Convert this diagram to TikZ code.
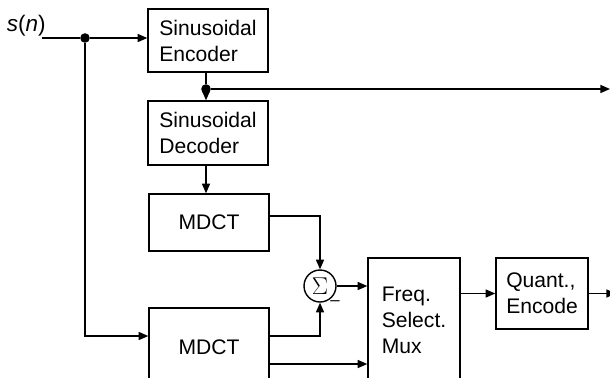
\documentclass[tikz,border=0pt]{standalone}
\usepackage{fontspec}
\setmainfont{Liberation Sans}
\usetikzlibrary{arrows.meta}

\begin{document}
\begin{tikzpicture}[
  x=1cm,
  y=1cm,
  every node/.style={font=\fontsize{15}{18.5}\selectfont},
  block/.style={draw, line width=1pt, minimum width=3cm, align=left,
               inner sep=0pt},
  sumnode/.style={draw, circle, line width=1pt, minimum size=0.8cm,
               inner sep=0pt, font=\fontsize{17}{20}\selectfont},
  wire/.style={line width=1pt},
  sig/.style={line width=1pt, -{Triangle[length=0.24cm, width=0.2cm]}},
  junction/.style={circle, fill, minimum size=0.24cm, inner sep=0pt}
]
  % ---- frame: the figure is cut at the bottom and right edges ----------
  \useasboundingbox (0,0) rectangle (15.25,9.425);
  \clip (0,0) rectangle (15.25,9.425);

  % ---- blocks ------------------------------------------------------------
  \node[block, minimum height=1.575cm] (enc) at (5.2,8.4125)
    {Sinusoidal\\Encoder};
  \node[block, minimum height=1.6cm] (dec) at (5.2,6.1)
    {Sinusoidal\\Decoder};
  \node[block, minimum height=1.425cm] (mdctA) at (5.225,3.8625) {MDCT};
  \node[block, minimum height=1.95cm] (mdctB) at (5.225,0.75) {MDCT};
  \node[sumnode] (sum) at (8.0,2.275) {$\Sigma$};
  \node[font=\fontsize{12}{14}\selectfont] (minus) at (8.375,1.84) {–};
  \node[block, minimum width=2.3cm, minimum height=3.1cm] (mux)
    at (10.35,1.425) {Freq.\\Select.\\Mux};
  \node[block, minimum width=2.3cm, minimum height=1.775cm] (quant)
    at (13.55,2.0875) {Quant.,\\Encode};

  % ---- input s(n) and its branch point ------------------------------------
  \coordinate (in) at (1.05,8.475);
  \node[anchor=base east, inner sep=0pt, font=\fontsize{16}{19}\selectfont]
    (sn) at (1.15,8.65) {\textit{s}(\textit{n})};
  \node[junction] (j1) at (2.125,8.475) {};
  \draw[wire] (in) -- (j1);
  \draw[sig] (j1) -- (j1 -| enc.west);

  % ---- encoder output, branch to the decoder -------------------------------
  \node[junction] (j2) at (5.15,7.2) {};
  \coordinate (outA) at (15.25,7.2);
  \draw[wire] (enc.south -| j2) -- (j2);
  \draw[sig] (j2) -- (j2 |- dec.north);
  \draw[sig] (j2) -- (outA);
  \draw[sig] (dec.south -| j2) -- (j2 |- mdctA.north);

  % ---- residual --------------------------------------------------------------
  \coordinate (inB) at ([yshift=0.275cm]mdctB.west);
  \draw[sig] (j1) |- (inB);
  \draw[sig] ([yshift=0.16cm]mdctA.east) -| (sum.north);
  \draw[sig] ([yshift=0.275cm]mdctB.east) -| (sum.south);
  \coordinate (mixB) at ([yshift=-0.425cm]mdctB.east);
  \draw[sig] (mixB) -- (mixB -| mux.west);
  \draw[sig] (sum.east) -- (sum.east -| mux.west);

  % ---- selection and coding ----------------------------------------------------
  \coordinate (outB) at (15.4,2.0875);
  \draw[sig] (quant.west -| mux.east) -- (quant.west);
  \draw[sig] (quant.east) -- (outB);
\end{tikzpicture}
\end{document}
